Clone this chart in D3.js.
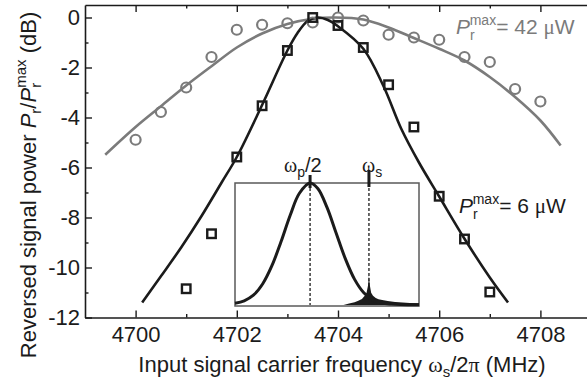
<!DOCTYPE html>
<html>
<head>
<meta charset="utf-8">
<script src="https://cdn.jsdelivr.net/npm/d3@7"></script>
<style>
  body { margin: 0; background: #fff; }
  svg { display: block; font-family: "Liberation Sans", Arial, Helvetica, sans-serif; }
</style>
</head>
<body>
<svg id="chart" width="587" height="383"></svg>
<script>
// Measured reversed signal power, P_r^max = 6 µW (squares)
const sqFreq = [4701, 4701.5, 4702, 4702.5, 4703, 4703.5, 4704, 4704.5, 4705, 4705.5, 4706, 4706.5, 4707];
const sqPow  = [-10.85, -8.65, -5.58, -3.53, -1.32, 0.0, -0.32, -1.2, -2.69, -4.38, -7.15, -8.86, -10.98];

// Measured reversed signal power, P_r^max = 42 µW (circles)
const ciFreq = [4700, 4700.5, 4701, 4701.5, 4702, 4702.5, 4703, 4703.5, 4704, 4704.5, 4705, 4705.5, 4706, 4706.5, 4707, 4707.5, 4708];
const ciPow  = [-4.89, -3.78, -2.8, -1.58, -0.49, -0.29, -0.23, -0.2, 0.0, -0.12, -0.69, -0.8, -0.89, -1.58, -1.78, -2.86, -3.36];

// Fitted response curves
const fitBFreq = [4700.13, 4700.5, 4700.9, 4701.3, 4701.7, 4702.0, 4702.5, 4703.0, 4703.2, 4703.4, 4703.6, 4703.8, 4704.0, 4704.5, 4704.9, 4705.25, 4705.6, 4706.0, 4706.5, 4707.0, 4707.36];
const fitBPow  = [-11.4, -10.35, -9.2, -7.95, -6.6, -5.58, -3.5, -1.32, -0.62, -0.14, 0.0, -0.1, -0.35, -1.25, -2.75, -4.45, -5.8, -7.16, -8.85, -10.4, -11.4];
const fitGFreq = [4699.4, 4700, 4700.5, 4701, 4701.5, 4702, 4702.5, 4703, 4703.5, 4703.95, 4704.5, 4705, 4705.5, 4706, 4706.5, 4707, 4707.5, 4708, 4708.4];
const fitGPow  = [-5.49, -4.38, -3.55, -2.72, -1.95, -1.2, -0.64, -0.26, -0.05, 0.0, -0.08, -0.4, -0.82, -1.25, -1.72, -2.38, -3.18, -4.12, -5.12];

// Axis ticks
const xMajor = [4700, 4702, 4704, 4706, 4708];
const xMinor = [4701, 4703, 4705, 4707];
const yMajor = [-12, -10, -8, -6, -4, -2, 0];
const yMinor = [-11, -9, -7, -5, -3, -1];

// Inset: pump spectrum (arbitrary units) and scattered signal line
const insetX = [0, 5, 10, 15, 20, 25, 30, 35, 40.8, 45, 50, 55, 60, 65, 70, 75, 80, 85, 90, 100];
const insetY = [0.014, 0.034, 0.08, 0.172, 0.32, 0.518, 0.736, 0.916, 1.0, 0.955, 0.8, 0.588, 0.378, 0.21, 0.1, 0.04, 0.016, 0.008, 0.004, 0.002];
const noiseX = [59, 62, 65, 67, 69, 70.5, 71.5, 72.3, 72.8, 73.3, 74, 75, 76.5, 78, 80, 83, 87, 91, 95, 100];
const noiseY = [0, 0.012, 0.022, 0.035, 0.05, 0.075, 0.1, 0.16, 0.24, 0.16, 0.1, 0.075, 0.058, 0.048, 0.04, 0.032, 0.025, 0.02, 0.017, 0.015];
const pumpHalf = 40.8, signalPos = 72.8;

const GRAY = "#7b7b7b", BLACK = "#1b1b1b";
const svg = d3.select("#chart");

const x = d3.scaleLinear().domain([4699, 4709]).range([85, 591]);
const y = d3.scaleLinear().domain([-12, 0.5]).range([317.5, 5]);

// ---- axes (ticks point inward, mirrored on top) ----
function styleAxis(g) {
  g.selectAll(".domain").attr("stroke", BLACK).attr("stroke-width", 1.6);
  g.selectAll(".tick line").attr("stroke", BLACK).attr("stroke-width", 1.4);
  g.selectAll(".tick text").attr("fill", BLACK).attr("font-size", 22)
    .attr("font-family", "'Liberation Sans', Arial, sans-serif");
}
const fmt = d => String(d);

svg.append("g").attr("transform", "translate(0,317.5)")
  .call(d3.axisBottom(x).tickValues(xMajor).tickFormat(fmt).tickSizeInner(-7).tickSizeOuter(0).tickPadding(9))
  .call(styleAxis);
svg.append("g").attr("transform", "translate(0,317.5)")
  .call(d3.axisBottom(x).tickValues(xMinor).tickFormat("").tickSizeInner(-3.5).tickSizeOuter(0))
  .call(g => g.select(".domain").remove()).call(styleAxis);
svg.append("g").attr("transform", "translate(0,5)")
  .call(d3.axisTop(x).tickValues(xMajor).tickFormat("").tickSizeInner(-7).tickSizeOuter(0))
  .call(styleAxis);
svg.append("g").attr("transform", "translate(0,5)")
  .call(d3.axisTop(x).tickValues(xMinor).tickFormat("").tickSizeInner(-3.5).tickSizeOuter(0))
  .call(g => g.select(".domain").remove()).call(styleAxis);
svg.append("g").attr("transform", "translate(85,0)")
  .call(d3.axisLeft(y).tickValues(yMajor).tickFormat(fmt).tickSizeInner(-7).tickSizeOuter(0).tickPadding(5))
  .call(styleAxis);
svg.append("g").attr("transform", "translate(85,0)")
  .call(d3.axisLeft(y).tickValues(yMinor).tickFormat("").tickSizeInner(-3.5).tickSizeOuter(0))
  .call(g => g.select(".domain").remove()).call(styleAxis);

// ---- fitted curves ----
const line = d3.line().x(d => x(d[0])).y(d => y(d[1])).curve(d3.curveCatmullRom.alpha(0.5));
svg.append("path").datum(d3.zip(fitGFreq, fitGPow)).attr("d", line)
  .attr("fill", "none").attr("stroke", GRAY).attr("stroke-width", 2.6);
svg.append("path").datum(d3.zip(fitBFreq, fitBPow)).attr("d", line)
  .attr("fill", "none").attr("stroke", BLACK).attr("stroke-width", 2.6);

// ---- measured points ----
svg.append("g").selectAll("circle").data(d3.zip(ciFreq, ciPow)).join("circle")
  .attr("cx", d => x(d[0])).attr("cy", d => y(d[1])).attr("r", 5)
  .attr("fill", "none").attr("stroke", GRAY).attr("stroke-width", 2.2);
const sq = 8.5;
svg.append("g").selectAll("rect").data(d3.zip(sqFreq, sqPow)).join("rect")
  .attr("x", d => x(d[0]) - sq / 2).attr("y", d => y(d[1]) - sq / 2)
  .attr("width", sq).attr("height", sq)
  .attr("fill", "none").attr("stroke", BLACK).attr("stroke-width", 2.4);

// ---- inset ----
const ix = d3.scaleLinear().domain([0, 100]).range([235, 419]);
const iy = d3.scaleLinear().domain([0, 1]).range([305, 183]);
const inset = svg.append("g");
inset.append("rect").attr("x", ix(0)).attr("y", iy(1)).attr("width", ix(100) - ix(0)).attr("height", iy(0) - iy(1) + 1)
  .attr("fill", "none").attr("stroke", "#5a5a5a").attr("stroke-width", 1.5);
inset.append("path").datum(d3.zip(noiseX, noiseY))
  .attr("d", d3.area().x(d => ix(d[0])).y0(iy(0)).y1(d => iy(d[1])))
  .attr("fill", BLACK);
[pumpHalf, signalPos].forEach(p => {
  inset.append("line").attr("x1", ix(p)).attr("x2", ix(p)).attr("y1", iy(1)).attr("y2", iy(0))
    .attr("stroke", BLACK).attr("stroke-width", 1.3).attr("stroke-dasharray", "3,2");
});
inset.append("path").datum(d3.zip(insetX, insetY))
  .attr("d", d3.line().x(d => ix(d[0])).y(d => iy(d[1])).curve(d3.curveCatmullRom.alpha(0.5)))
  .attr("fill", "none").attr("stroke", BLACK).attr("stroke-width", 3);
inset.append("line").attr("x1", ix(pumpHalf)).attr("x2", ix(pumpHalf)).attr("y1", 175).attr("y2", 188)
  .attr("stroke", BLACK).attr("stroke-width", 3);
inset.append("line").attr("x1", ix(signalPos)).attr("x2", ix(signalPos)).attr("y1", 170).attr("y2", 187)
  .attr("stroke", BLACK).attr("stroke-width", 3);

// ---- text helpers ----
const SERIF = "'Liberation Serif', 'Times New Roman', serif";
function addParts(t, parts) {
  parts.forEach(p => {
    const s = t.append("tspan").text(p.t);
    if (p.i) s.attr("font-style", "italic");
    if (p.serif) s.attr("font-family", SERIF);
    if (p.fs) s.attr("font-size", p.fs);
    if (p.dy) s.attr("dy", p.dy);
    if (p.dx) s.attr("dx", p.dx);
  });
}

// inset labels
addParts(svg.append("text").attr("x", 284).attr("y", 172).attr("font-size", 20).attr("fill", BLACK), [
  { t: "ω", serif: true }, { t: "p", fs: 14, dy: 5 }, { t: "/2", dy: -5 }
]);
addParts(svg.append("text").attr("x", 362).attr("y", 172).attr("font-size", 20).attr("fill", BLACK), [
  { t: "ω", serif: true }, { t: "s", fs: 14, dy: 5 }
]);

// series labels
function powerLabel(x0, base, value, color) {
  const t = svg.append("text").attr("x", x0).attr("y", base).attr("font-size", 21).attr("fill", color);
  addParts(t, [
    { t: "P", i: true },
    { t: "r", fs: 14, dy: 6 },
    { t: "max", fs: 14, dx: -5, dy: -15 },
    { t: "= " + value + " ", dy: 9 },
    { t: "μ", serif: true },
    { t: "W" }
  ]);
}
powerLabel(456, 34, "42", GRAY);
powerLabel(459, 213, "6", BLACK);

// axis titles
addParts(svg.append("text").attr("x", 342).attr("y", 372).attr("text-anchor", "middle")
  .attr("font-size", 22).attr("fill", BLACK), [
  { t: "Input signal carrier frequency " },
  { t: "ω", serif: true }, { t: "s", fs: 15, dy: 5 }, { t: "/2", dy: -5 },
  { t: "π", serif: true }, { t: " (MHz)" }
]);
addParts(svg.append("text").attr("transform", "translate(36,185) rotate(-90)").attr("text-anchor", "middle")
  .attr("font-size", 22).attr("fill", BLACK), [
  { t: "Reversed signal power " },
  { t: "P", i: true }, { t: "r", fs: 15, dy: 5 }, { t: "/", dy: -5 },
  { t: "P", i: true }, { t: "r", fs: 15, dy: 5 }, { t: "max", fs: 15, dx: -5, dy: -15 },
  { t: " (dB)", dy: 10 }
]);
</script>
</body>
</html>
